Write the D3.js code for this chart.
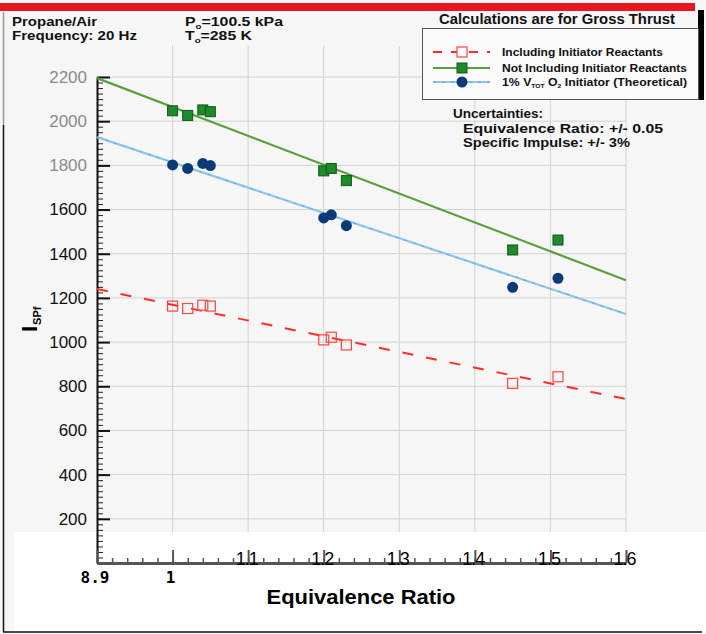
<!DOCTYPE html>
<html>
<head>
<meta charset="utf-8">
<script src="https://cdn.jsdelivr.net/npm/d3@7"></script>
<style>
  body { margin: 0; background: #f6f6f6; }
  svg { display: block; font-family: "Liberation Sans", Arial, sans-serif; }
</style>
</head>
<body>
<div id="chart"></div>
<script>
// equivalence ratio of each test point
const phi = [1.00, 1.02, 1.04, 1.05, 1.20, 1.21, 1.23, 1.45, 1.51];
// specific impulse, s
const ispWithInit = [1163, 1152, 1167, 1163, 1010, 1022, 987, 813, 843];
const ispNoInit = [2047, 2026, 2051, 2043, 1775, 1786, 1731, 1417, 1462];
const ispTheory = [1802, 1786, 1809, 1799, 1562, 1576, 1527, 1248, 1289];
// linear fits, value at each end of the axis
const fitPhi = [0.9, 1.6];
const fitWithInit = [1240, 742];
const fitNoInit = [2195, 1280];
const fitTheory = [1928, 1127];
// axis ticks
const xTicks = [0.9, 1.0, 1.1, 1.2, 1.3, 1.4, 1.5, 1.6];
const xTickLabels = ["8.9", "1", "1.1", "1.2", "1.3", "1.4", "1.5", "1.6"];
const yTicks = [200, 400, 600, 800, 1000, 1200, 1400, 1600, 1800, 2000, 2200];

(function(){
    const width = 706, height = 634;
    const svg = d3.select("#chart").append("svg")
        .attr("width", width).attr("height", height);

    const x = d3.scaleLinear().domain([0.9, 1.6]).range([97, 626]);
    const y = d3.scaleLinear().domain([0, 2200]).range([563, 77]);

    // background
    svg.append("rect").attr("width", width).attr("height", height).attr("fill", "#f6f6f6");

    // grid
    const grid = svg.append("g").attr("stroke", "#d2d2d2").attr("stroke-width", 1);
    grid.selectAll("line.h").data(yTicks).join("line")
        .attr("x1", x(0.9)).attr("x2", x(1.6))
        .attr("y1", d => y(d)).attr("y2", d => y(d));
    grid.selectAll("line.v").data(xTicks.slice(1)).join("line")
        .attr("x1", d => x(d)).attr("x2", d => x(d))
        .attr("y1", 46).attr("y2", y(0));

    // white band below the plot
    svg.append("rect").attr("x", 14).attr("y", 532).attr("width", 692).attr("height", 100).attr("fill", "#fff");

    // top red bar and frame
    svg.append("rect").attr("x", 0).attr("y", 3).attr("width", 695).attr("height", 8).attr("fill", "#e8161e");
    svg.append("line").attr("x1", 3.5).attr("x2", 3.5).attr("y1", 12).attr("y2", 125).attr("stroke", "#999").attr("stroke-width", 1.5);
    svg.append("line").attr("x1", 3.5).attr("x2", 3.5).attr("y1", 125).attr("y2", 632).attr("stroke", "#111").attr("stroke-width", 1.5);
    svg.append("line").attr("x1", 3).attr("x2", 702).attr("y1", 632).attr("y2", 632).attr("stroke", "#111").attr("stroke-width", 1.5);

    // y axis
    const yMinor = d3.range(0, 2200, 25);
    svg.append("g").attr("transform", `translate(${x(0.9)},0)`)
        .call(d3.axisLeft(y).tickValues(yMinor).tickSize(-6).tickFormat(""))
        .call(g => g.select(".domain").remove())
        .selectAll("line").attr("stroke", "#222");
    const yAxis = svg.append("g").attr("transform", `translate(${x(0.9)},0)`)
        .call(d3.axisLeft(y).tickValues(yTicks).tickFormat(d3.format("d"))
            .tickSize(-13).tickPadding(10).tickSizeOuter(0));
    yAxis.select(".domain").attr("stroke", "#111").attr("stroke-width", 2);
    yAxis.selectAll("line").attr("stroke", "#111").attr("stroke-width", 2);
    yAxis.selectAll("text")
        .attr("font-size", 17)
        .attr("font-family", "Liberation Sans, Arial, sans-serif")
        .attr("fill", d => d >= 1800 ? "#8a8a8a" : "#111");

    // x axis
    const xMinor = d3.range(0.9, 1.6001, 0.02);
    svg.append("g").attr("transform", `translate(0,${y(0)})`)
        .call(d3.axisBottom(x).tickValues(xMinor).tickSize(-5).tickFormat(""))
        .call(g => g.select(".domain").remove())
        .selectAll("line").attr("stroke", "#555").attr("stroke-width", 1.5);
    const xAxis = svg.append("g").attr("transform", `translate(0,${y(0)})`)
        .call(d3.axisBottom(x).tickValues(xTicks).tickSize(-13).tickFormat("").tickSizeOuter(0));
    xAxis.select(".domain").attr("stroke", "#555").attr("stroke-width", 3);
    xAxis.selectAll("line").attr("stroke", "#555").attr("stroke-width", 2);

    svg.selectAll("text.xl").data(xTicks).join("text")
        .attr("class", "xl")
        .attr("x", (d, i) => i < 2 ? x(d) - 2 : x(d) - 1.5)
        .attr("y", (d, i) => i < 2 ? 583 : 565)
        .attr("text-anchor", "middle")
        .attr("font-family", (d, i) => i < 2 ? "DejaVu Sans Mono, monospace" : "Liberation Sans, Arial, sans-serif")
        .attr("font-size", (d, i) => i < 2 ? 16 : 18)
        .attr("font-weight", (d, i) => i < 2 ? "bold" : "normal")
        .attr("letter-spacing", (d, i) => i < 2 ? 0 : -1)
        .attr("fill", "#000")
        .text((d, i) => xTickLabels[i]);

    // axis titles
    svg.append("text").attr("x", 361).attr("y", 604).attr("text-anchor", "middle")
        .attr("font-size", 20).attr("font-weight", "bold").attr("textLength", 189)
        .attr("lengthAdjust", "spacingAndGlyphs").text("Equivalence Ratio");
    const yt = svg.append("text").attr("transform", "translate(37,332) rotate(-90)")
        .attr("font-weight", "bold").attr("font-size", 22);
    yt.append("tspan").text("I");
    yt.append("tspan").attr("font-size", 11).attr("dy", 4).attr("dx", 1).text("SPf");

    // fit lines
    const line = d3.line().x(d => x(d[0])).y(d => y(d[1]));
    const fit = vals => fitPhi.map((p, i) => [p, vals[i]]);
    svg.append("path").attr("d", line(fit(fitTheory))).attr("fill", "none")
        .attr("stroke", "#8cc8ea").attr("stroke-width", 2.2);
    svg.append("path").attr("d", line(fit(fitTheory))).attr("fill", "none")
        .attr("stroke", "#7a8a96").attr("stroke-width", 0.8).attr("stroke-dasharray", "3,6").attr("opacity", 0.7);
    svg.append("path").attr("d", line(fit(fitNoInit))).attr("fill", "none")
        .attr("stroke", "#5c9e3c").attr("stroke-width", 2.2);
    svg.append("path").attr("d", line(fit(fitWithInit))).attr("fill", "none")
        .attr("stroke", "#ff2a2a").attr("stroke-width", 2).attr("stroke-dasharray", "11,13");

    // markers
    const sq = 10;
    svg.selectAll("rect.init").data(phi).join("rect").attr("class", "init")
        .attr("x", d => x(d) - sq / 2).attr("y", (d, i) => y(ispWithInit[i]) - sq / 2)
        .attr("width", sq).attr("height", sq)
        .attr("fill", "none").attr("stroke", "#ff4545").attr("stroke-width", 1.2);
    svg.selectAll("rect.noinit").data(phi).join("rect").attr("class", "noinit")
        .attr("x", d => x(d) - sq / 2).attr("y", (d, i) => y(ispNoInit[i]) - sq / 2)
        .attr("width", sq).attr("height", sq)
        .attr("fill", "#1f8a2c").attr("stroke", "#0f5a18").attr("stroke-width", 1);
    svg.selectAll("circle.theory").data(phi).join("circle").attr("class", "theory")
        .attr("cx", d => x(d)).attr("cy", (d, i) => y(ispTheory[i])).attr("r", 5.5)
        .attr("fill", "#0c3a78");

    // header text
    const hdr = (tx, ty, len) => svg.append("text").attr("x", tx).attr("y", ty)
        .attr("font-size", 13).attr("font-weight", "bold").attr("fill", "#111")
        .attr("textLength", len).attr("lengthAdjust", "spacingAndGlyphs");
    hdr(12, 26, 85).text("Propane/Air");
    hdr(12, 40, 125).text("Frequency: 20 Hz");
    const p0 = hdr(185, 26, 98);
    p0.append("tspan").text("P");
    p0.append("tspan").attr("font-size", 8).attr("dy", 3).text("o");
    p0.append("tspan").attr("dy", -3).text("=100.5 kPa");
    const t0 = hdr(185, 40, 67);
    t0.append("tspan").text("T");
    t0.append("tspan").attr("font-size", 8).attr("dy", 3).text("o");
    t0.append("tspan").attr("dy", -3).text("=285 K");

    svg.append("text").attr("x", 557).attr("y", 24).attr("text-anchor", "middle")
        .attr("font-size", 15).attr("font-weight", "bold").attr("fill", "#111")
        .attr("textLength", 236).attr("lengthAdjust", "spacingAndGlyphs")
        .text("Calculations are for Gross Thrust");

    // legend
    svg.append("rect").attr("x", 698).attr("y", 10).attr("width", 6).attr("height", 90).attr("fill", "#000");
    svg.append("rect").attr("x", 422.5).attr("y", 28.5).attr("width", 276).attr("height", 71)
        .attr("fill", "#fafafa").attr("stroke", "#555").attr("stroke-width", 1);

    const leg = svg.append("g");
    const ly = [52, 68, 82];
    leg.append("line").attr("x1", 433).attr("x2", 490).attr("y1", ly[0]).attr("y2", ly[0])
        .attr("stroke", "#ff2a2a").attr("stroke-width", 2).attr("stroke-dasharray", "9,9");
    leg.append("rect").attr("x", 462 - sq / 2).attr("y", ly[0] - sq / 2).attr("width", sq).attr("height", sq)
        .attr("fill", "#fafafa").attr("stroke", "#ff4545").attr("stroke-width", 1.2);
    leg.append("line").attr("x1", 433).attr("x2", 490).attr("y1", ly[1]).attr("y2", ly[1])
        .attr("stroke", "#5c9e3c").attr("stroke-width", 2);
    leg.append("rect").attr("x", 462 - sq / 2).attr("y", ly[1] - sq / 2).attr("width", sq).attr("height", sq)
        .attr("fill", "#1f8a2c").attr("stroke", "#0f5a18");
    leg.append("line").attr("x1", 433).attr("x2", 490).attr("y1", ly[2]).attr("y2", ly[2])
        .attr("stroke", "#8cc8ea").attr("stroke-width", 2.2);
    leg.append("line").attr("x1", 433).attr("x2", 490).attr("y1", ly[2]).attr("y2", ly[2])
        .attr("stroke", "#7a8a96").attr("stroke-width", 0.8).attr("stroke-dasharray", "3,6");
    leg.append("circle").attr("cx", 462).attr("cy", ly[2]).attr("r", 5.5).attr("fill", "#0c3a78");

    const lt = (ty, len) => leg.append("text").attr("x", 502).attr("y", ty + 4)
        .attr("font-size", 11).attr("font-weight", "bold").attr("fill", "#111")
        .attr("textLength", len).attr("lengthAdjust", "spacingAndGlyphs");
    lt(ly[0], 161).text("Including Initiator Reactants");
    lt(ly[1], 185).text("Not Including Initiator Reactants");
    const l3 = lt(ly[2], 185);
    l3.append("tspan").text("1% V");
    l3.append("tspan").attr("font-size", 6).attr("dy", 2).text("TOT");
    l3.append("tspan").attr("dy", -2).text(" O");
    l3.append("tspan").attr("font-size", 6).attr("dy", 2).text("2");
    l3.append("tspan").attr("dy", -2).text(" Initiator (Theoretical)");

    // uncertainties
    const ut = (tx, ty, len) => svg.append("text").attr("x", tx).attr("y", ty)
        .attr("font-size", 12).attr("font-weight", "bold").attr("fill", "#111")
        .attr("textLength", len).attr("lengthAdjust", "spacingAndGlyphs");
    ut(453, 118, 90).text("Uncertainties:");
    ut(463, 133, 200).text("Equivalence Ratio: +/- 0.05");
    ut(463, 147, 167).text("Specific Impulse: +/- 3%");
})();
</script>
</body>
</html>
